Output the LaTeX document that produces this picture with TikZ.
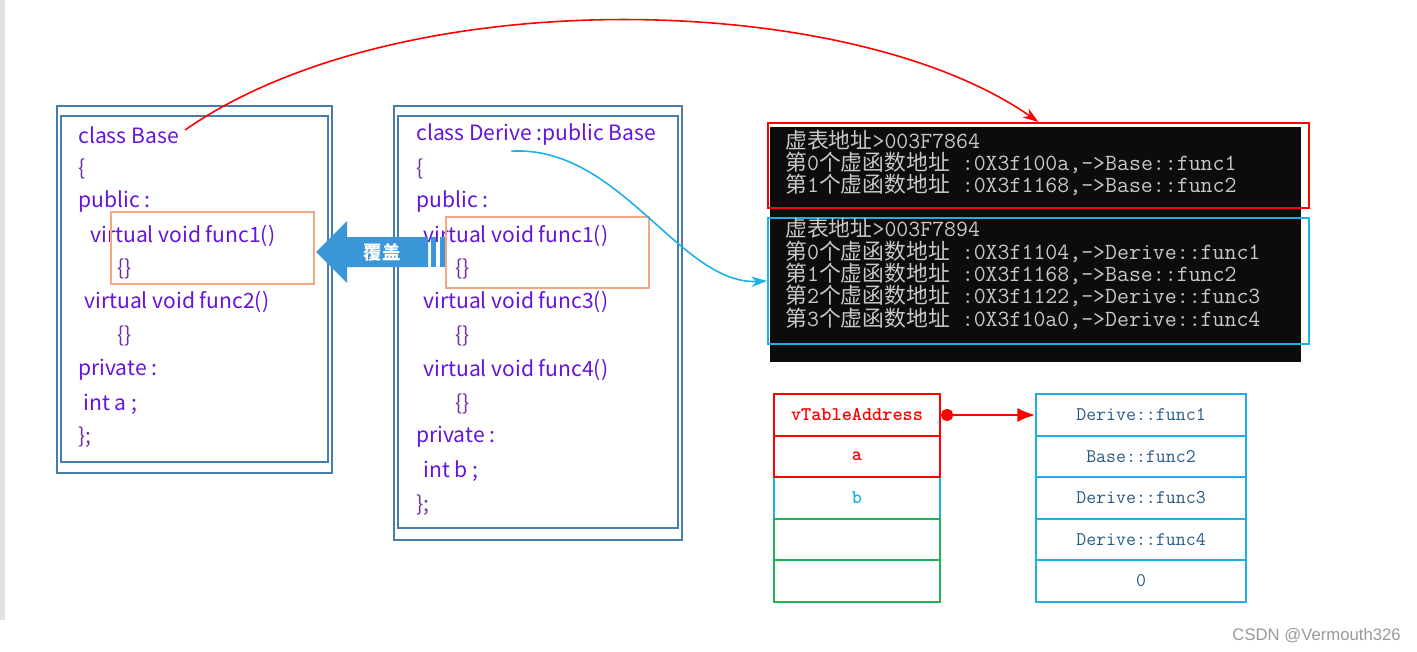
\documentclass[tikz,border=0pt]{standalone}
\usepackage{fontspec}
\newfontfamily\cjk{Noto Sans CJK SC}
\newfontfamily\concjk[Scale=0.94]{Noto Sans CJK SC}
\newfontfamily\csdnfont{Liberation Sans}
\usetikzlibrary{arrows.meta}

\definecolor{boxblue}{RGB}{70,125,170}
\definecolor{codepurple}{RGB}{100,20,220}
\definecolor{bracepurple}{RGB}{112,48,160}
\definecolor{markorange}{RGB}{245,165,130}
\definecolor{coverblue}{RGB}{58,150,215}
\definecolor{tblue}{RGB}{28,176,234}
\definecolor{tgreen}{RGB}{30,180,90}
\definecolor{consolebg}{RGB}{12,12,12}
\definecolor{consoletext}{RGB}{200,200,200}
\definecolor{slotblue}{RGB}{40,90,135}
\definecolor{sidegray}{RGB}{223,227,231}

\newcommand{\zh}[1]{{\concjk #1}}

\begin{document}
\begin{tikzpicture}[x=0.02cm, y=-0.02cm, >=Stealth,
  code/.style={anchor=west, inner sep=0, text=codepurple, font=\cjk\fontsize{12}{14}\selectfont},
  brace/.style={code, text=bracepurple},
  frame/.style={draw=boxblue, line width=1.1pt},
  markbox/.style={draw=markorange, line width=0.9pt},
  con/.style={anchor=west, inner sep=0, yshift=-1.5pt, text height=8pt, text depth=2pt, text=consoletext, font=\ttfamily\fontsize{13.2}{15}\selectfont},
  slot/.style={draw, line width=1.1pt, minimum width=3.32cm, minimum height=0.832cm, inner sep=0, font=\ttfamily\bfseries\fontsize{11}{13}\selectfont},
  vslot/.style={draw=tblue, line width=1.1pt, minimum width=4.2cm, minimum height=0.832cm, inner sep=0, text=slotblue, font=\ttfamily\fontsize{11}{13}\selectfont}
]
\useasboundingbox (0,0) rectangle (1417,652);
\fill[sidegray] (0,0) rectangle (5,620);

% class Base
\draw[frame] (57,106) rectangle (332,473);
\draw[frame] (61,116) rectangle (328,462);
\node[code] (b1) at (78,135) {class Base};
\node[brace] (b2) at (78,169) {\{};
\node[code] (b3) at (78,202) {public :};
\node[code] (b4) at (90,236) {virtual void func1()};
\node[brace] (b5) at (117,269) {\{\}};
\node[code] (b6) at (84,302) {virtual void func2()};
\node[brace] (b7) at (117,336) {\{\}};
\node[code] (b8) at (78,370) {private :};
\node[code] (b9) at (83,404) {int a ;};
\node[brace] (b10) at (78,437) {\};};
\draw[markbox] (111,212) rectangle (314,284);

% class Derive
\draw[frame] (394,106) rectangle (682,540);
\draw[frame] (398,116) rectangle (678,528);
\node[code] (d1) at (416,135) {class Derive :public Base};
\node[brace] (d2) at (416,169) {\{};
\node[code] (d3) at (416,202) {public :};
\node[code] (d4) at (423,236) {virtual void func1()};
\node[brace] (d5) at (455,269) {\{\}};
\node[code] (d6) at (423,302) {virtual void func3()};
\node[brace] (d7) at (455,336) {\{\}};
\node[code] (d8) at (423,370) {virtual void func4()};
\node[brace] (d9) at (455,404) {\{\}};
\node[code] (d10) at (416,437) {private :};
\node[code] (d11) at (423,471) {int b ;};
\node[brace] (d12) at (416,505) {\};};
\draw[markbox] (446,217) rectangle (649,288);

% override arrow
\fill[coverblue] (316,252) -- (347,221) -- (347,237) -- (428,237) -- (428,267)
  -- (347,267) -- (347,283) -- cycle;
\fill[coverblue] (431,237) rectangle (436,267);
\fill[coverblue] (440,237) rectangle (445,267);
\node[text=white, font=\cjk\bfseries\fontsize{10.5}{12}\selectfont] (cover) at (382,252) {覆盖};

% console output
\node[fill=consolebg, minimum width=10.62cm, minimum height=4.7cm, inner sep=0] (console) at (1035.5,244.5) {};
\node[draw=red, line width=1.1pt, minimum width=10.82cm, minimum height=1.7cm, inner sep=0] (basetab) at (1038.5,165.5) {};
\node[draw=tblue, line width=1.1pt, minimum width=10.82cm, minimum height=2.52cm, inner sep=0] (derivetab) at (1038.5,281) {};
\node[con] (c1) at (785,141) {\zh{虚表地址}>003F7864};
\node[con] (c2) at (785,163) {\zh{第}0\zh{个虚函数地址} :0X3f100a,->Base::func1};
\node[con] (c3) at (785,185) {\zh{第}1\zh{个虚函数地址} :0X3f1168,->Base::func2};
\node[con] (c4) at (785,229) {\zh{虚表地址}>003F7894};
\node[con] (c5) at (785,252) {\zh{第}0\zh{个虚函数地址} :0X3f1104,->Derive::func1};
\node[con] (c6) at (785,274) {\zh{第}1\zh{个虚函数地址} :0X3f1168,->Base::func2};
\node[con] (c7) at (785,296) {\zh{第}2\zh{个虚函数地址} :0X3f1122,->Derive::func3};
\node[con] (c8) at (785,319) {\zh{第}3\zh{个虚函数地址} :0X3f10a0,->Derive::func4};

% object layout
\node[slot, draw=tblue, text=tblue] (brow) at (857,498) {b};
\node[slot, draw=tgreen] (e1) at (857,539.5) {};
\node[slot, draw=tgreen] (e2) at (857,581) {};
\node[slot, draw=red, text=red] (vtab) at (857,415) {vTableAddress};
\node[slot, draw=red, text=red] (arow) at (857,456.5) {a};

% virtual table
\node[vslot] (s1) at (1141,415) {Derive::func1};
\node[vslot] (s2) at (1141,456.5) {Base::func2};
\node[vslot] (s3) at (1141,498) {Derive::func3};
\node[vslot] (s4) at (1141,539.5) {Derive::func4};
\node[vslot] (s5) at (1141,581) {0};

% connectors
\draw[red, line width=0.9pt, -{Stealth[length=9pt, width=6pt]}] ([shift={(6,-5)}]b1.east)
  .. controls (400,-20) and (850,-10) .. (basetab.north);
\draw[tblue, line width=0.9pt, -{Stealth[length=9pt, width=6pt]}] ([shift={(-25,5)}]d1.south)
  .. controls (620,145) and (680,285) .. (derivetab.west);
\draw[red, line width=1.1pt, {Circle[length=7pt]}-{Latex[length=10pt, width=8pt]}] (vtab.east) -- (s1.west);

\node[anchor=east, inner sep=0, text=gray!80, font=\csdnfont\fontsize{9.5}{11}\selectfont] (credit) at (1401,636) {CSDN @Vermouth326};
\end{tikzpicture}
\end{document}
